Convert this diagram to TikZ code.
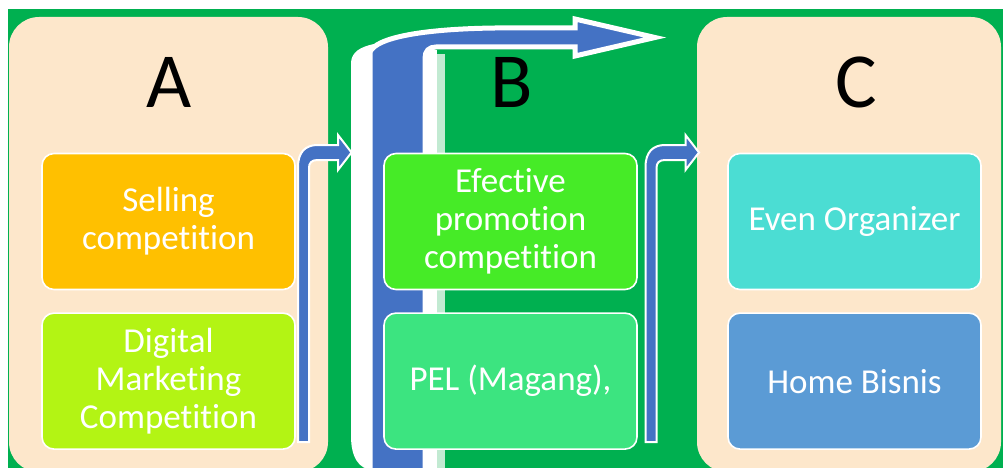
\documentclass[tikz,border=0pt]{standalone}
\usepackage{fontspec}
\setmainfont{Carlito}[Ligatures=NoCommon]
\usetikzlibrary{positioning}
\definecolor{bggreen}{HTML}{00B050}
\definecolor{peach}{HTML}{FDE7CB}
\definecolor{arrowblue}{HTML}{4472C4}
\definecolor{palegreen}{HTML}{C2EAD2}
\definecolor{sellfill}{HTML}{FFC000}
\definecolor{digifill}{HTML}{B3F414}
\definecolor{promofill}{HTML}{46EB27}
\definecolor{pelfill}{HTML}{3CE480}
\definecolor{evenfill}{HTML}{4BDDD3}
\definecolor{homefill}{HTML}{5B9BD5}
\tikzset{
	panel/.style={fill=peach, rounded corners=30pt, minimum width=#1, minimum height=455pt, inner sep=0pt},
	letter/.style={anchor=base, text=black, font=\fontsize{78}{90}\selectfont},
	item/.style={draw=white, line width=1.6pt, rounded corners=12pt,
		minimum width=253pt, minimum height=136pt, inner sep=0pt,
		text=white, align=center, font=\fontsize{35}{38}\selectfont},
	bentarrow/.pic={
		\fill[arrowblue, draw=white, line width=2pt]
		(-5.5,0) -- (-5.5,-275) .. controls (-5.5,-290) and (2,-297) .. (14,-297)
		-- (34.5,-297) -- (34.5,-307) -- (48,-289.5) -- (34.5,-272) -- (34.5,-282)
		-- (14,-282) .. controls (8,-282) and (5.5,-279) .. (5.5,-274) -- (5.5,0) -- cycle;
	}
}

\begin{document}
\begin{tikzpicture}[x=1pt,y=-1pt]
	\clip (0,0) rectangle (1003,468);
	\fill[white] (0,0) rectangle (1003,468);
	\fill[bggreen] (8,9) rectangle (1003,468);

	% Panels
	\node[panel=319pt] (panelA) at (168.5,244.5) {};
	\node[panel=304pt] (panelC) at (849,244.5) {};

	% Big arrow over B
	\fill[white] (351,62) .. controls (352,52) and (360,47) .. (374,44) -- (374,470)
	.. controls (358,470) and (351,456) .. (351,436) -- cycle;
	\fill[white] (424,50) rectangle (437,480);
	\fill[palegreen] (437,54) rectangle (445,480);
	\fill[arrowblue, draw=white, line width=5pt, line join=miter]
	(370,480) -- (370,52) .. controls (376,38) and (420,29) .. (495,28)
	-- (575,28) -- (575,19) -- (655,37.5) -- (575,56) -- (575,47)
	-- (436,47) .. controls (429,47) and (425,51) .. (425,58) -- (425,480) -- cycle;

	% Letters
	\node[letter] (letterA) at (169,108) {A};
	\node[letter] (letterB) at (512,108) {B};
	\node[letter] (letterC) at (856,108) {C};

	% Items
	\node[item, fill=sellfill] (selling) at (168.5,221.5) {Selling\\competition};
	\node[item, fill=digifill, below=22pt of selling] (digital) {Digital\\Marketing\\Competition};

	\node[item, fill=promofill] (promo) at (510.5,221.5) {Efective\\promotion\\competition};
	\node[item, fill=pelfill, below=22pt of promo] (pel) {PEL (Magang),};

	\node[item, fill=evenfill] (even) at (854.5,221.5) {Even Organizer};
	\node[item, fill=homefill, below=22pt of even] (home) {Home Bisnis};

	% Arrows
	\coordinate (arrowAB) at (303.5,442);
	\coordinate (arrowBC) at (651,442);
	\pic at (arrowAB) {bentarrow};
	\pic at (arrowBC) {bentarrow};
\end{tikzpicture}
\end{document}
